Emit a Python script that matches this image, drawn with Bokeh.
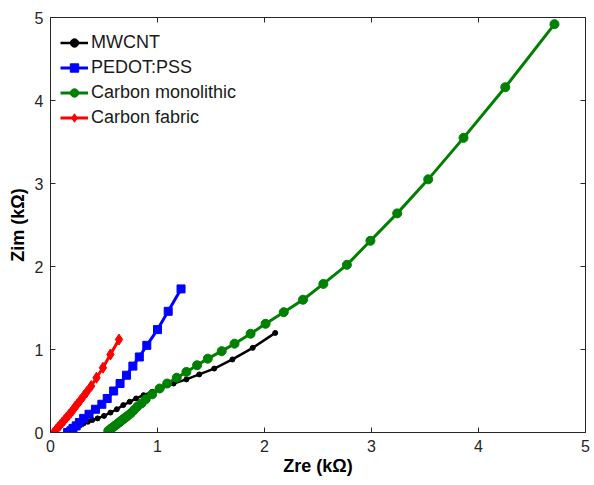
from bokeh.plotting import figure
from bokeh.models import Range1d, FixedTicker, LinearAxis, Legend
from bokeh.embed import file_html
from bokeh.resources import INLINE

# MWCNT
mw_x = [0.22, 0.25, 0.28, 0.31, 0.35, 0.39, 0.44, 0.50, 0.56, 0.62, 0.68, 0.74, 0.80, 0.87,
        0.95, 1.04, 1.15, 1.27, 1.39, 1.53, 1.70, 1.89, 2.10]
mw_y = [0.03, 0.06, 0.09, 0.11, 0.13, 0.15, 0.17, 0.20, 0.24, 0.28, 0.33, 0.37, 0.41, 0.45,
        0.49, 0.54, 0.59, 0.64, 0.70, 0.77, 0.88, 1.02, 1.20]
# PEDOT:PSS
pe_x = [0.16, 0.19, 0.21, 0.24, 0.27, 0.31, 0.36, 0.42, 0.48, 0.53, 0.59, 0.65, 0.71, 0.77,
        0.83, 0.90, 1.00, 1.10, 1.22]
pe_y = [0.00, 0.02, 0.05, 0.08, 0.12, 0.17, 0.22, 0.28, 0.34, 0.41, 0.50, 0.59, 0.69, 0.80,
        0.91, 1.05, 1.24, 1.46, 1.73]
# Carbon monolithic
cm_x = [0.54, 0.56, 0.58, 0.60, 0.62, 0.64, 0.66, 0.68, 0.70, 0.72, 0.75, 0.78, 0.81, 0.85,
        0.89, 0.95, 1.02, 1.09, 1.18, 1.27, 1.37, 1.47, 1.60, 1.72, 1.87, 2.01, 2.18, 2.36,
        2.55, 2.77, 2.99, 3.24, 3.53, 3.86, 4.25, 4.71]
cm_y = [0.02, 0.04, 0.06, 0.08, 0.10, 0.12, 0.14, 0.16, 0.18, 0.20, 0.23, 0.27, 0.31, 0.35,
        0.40, 0.46, 0.53, 0.59, 0.66, 0.73, 0.81, 0.89, 0.98, 1.07, 1.19, 1.31, 1.45, 1.60,
        1.79, 2.02, 2.31, 2.64, 3.05, 3.55, 4.16, 4.92]
# Carbon fabric
cf_x = [0.03, 0.05, 0.07, 0.09, 0.11, 0.13, 0.15, 0.17, 0.19, 0.21, 0.23, 0.25, 0.28, 0.31,
        0.34, 0.38, 0.43, 0.49, 0.56, 0.64]
cf_y = [0.00, 0.03, 0.06, 0.09, 0.12, 0.15, 0.18, 0.21, 0.24, 0.27, 0.31, 0.34, 0.39, 0.44,
        0.49, 0.56, 0.66, 0.78, 0.94, 1.12]

ticks = [0, 1, 2, 3, 4, 5]
FONT = "Liberation Sans"
AX = "#262626"

p = figure(width=594, height=485, output_backend="svg", toolbar_location=None,
           x_range=Range1d(0, 5), y_range=Range1d(0, 5),
           min_border_left=50, min_border_right=9, min_border_top=17, min_border_bottom=53,
           x_axis_label="Zre (kΩ)", y_axis_label="Zim (kΩ)")
p.outline_line_color = None
p.xgrid.visible = False
p.ygrid.visible = False
p.background_fill_color = "white"

for ax in (p.xaxis[0], p.yaxis[0]):
    ax.ticker = FixedTicker(ticks=ticks)
    ax.major_tick_in = 5
    ax.major_tick_out = 0
    ax.minor_tick_line_color = None
    ax.axis_line_color = AX
    ax.major_tick_line_color = AX
    ax.major_label_text_font = FONT
    ax.major_label_text_font_size = "16px"
    ax.major_label_text_color = AX
    ax.axis_label_text_font = FONT
    ax.axis_label_text_font_size = "18px"
    ax.axis_label_text_font_style = "bold"
    ax.axis_label_text_color = "black"
p.yaxis[0].major_label_standoff = 7
p.yaxis[0].axis_label_standoff = 4
p.xaxis[0].major_label_standoff = 7
p.xaxis[0].axis_label_standoff = 1

for side in ("right", "above"):
    a = LinearAxis(ticker=FixedTicker(ticks=ticks), major_tick_in=5, major_tick_out=0,
                   minor_tick_line_color=None, axis_line_color=AX, major_tick_line_color=AX,
                   major_label_overrides={t: "" for t in ticks}, major_label_standoff=0)
    p.add_layout(a, side)

l1 = p.line(mw_x, mw_y, color="black", line_width=2.5)
s1 = p.scatter(mw_x, mw_y, marker="circle", size=5, color="black")
l2 = p.line(pe_x, pe_y, color="#0000ff", line_width=3)
s2 = p.scatter(pe_x, pe_y, marker="square", size=8, color="#0000ff")
l3 = p.line(cm_x, cm_y, color="#008000", line_width=3)
s3 = p.scatter(cm_x, cm_y, marker="circle", size=9, color="#008000")
l4 = p.line(cf_x, cf_y, color="#ff0000", line_width=3)
s4 = p.scatter(cf_x, cf_y, marker="diamond", size=11, color="#ff0000")

legend = Legend(items=[("MWCNT", [l1, s1]), ("PEDOT:PSS", [l2, s2]),
                       ("Carbon monolithic", [l3, s3]), ("Carbon fabric", [l4, s4])],
                location=(10, 304), margin=0, padding=6, spacing=4,
                glyph_width=28, glyph_height=21, label_height=21, label_standoff=3,
                label_text_font=FONT, label_text_font_size="18px", label_text_color="#1a1a1a",
                border_line_color=None, background_fill_alpha=0)
p.add_layout(legend, "center")

open("out.html", "w").write(file_html(p, INLINE))
